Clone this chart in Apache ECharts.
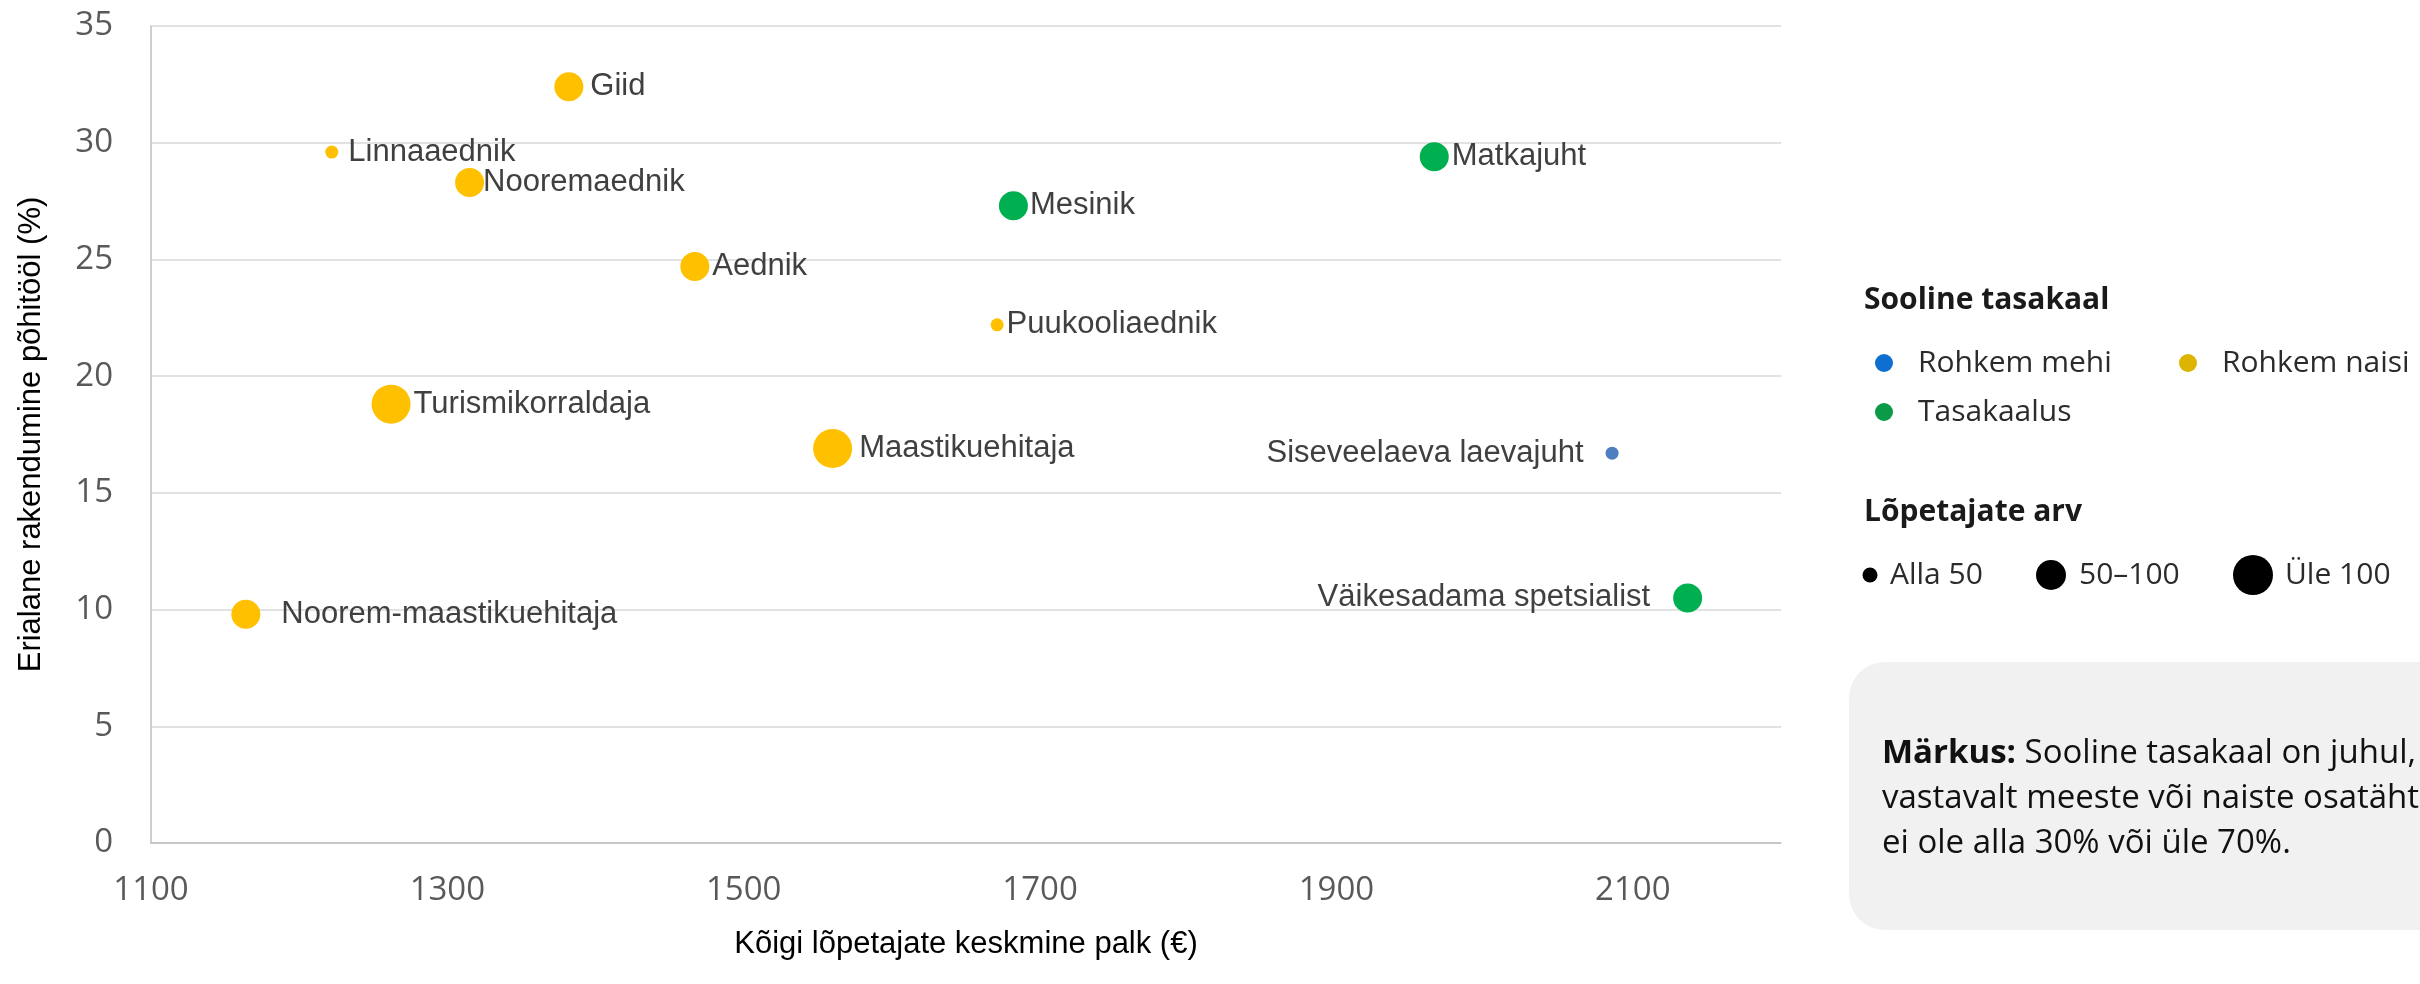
<!DOCTYPE html>
<html>
<head>
<meta charset="utf-8">
<script src="https://cdn.jsdelivr.net/npm/echarts@6/dist/echarts.min.js"></script>
<style>
html,body{margin:0;padding:0;background:#ffffff;}
#chart{width:2420px;height:984px;}
</style>
</head>
<body>
<div id="chart"></div>
<script>
// ---- data ----
const names = ['Giid','Linnaaednik','Nooremaednik','Aednik','Puukooliaednik','Turismikorraldaja','Maastikuehitaja','Noorem-maastikuehitaja','Mesinik','Matkajuht','Siseveelaeva laevajuht','Väikesadama spetsialist'];
const salary = [1382,1222,1315,1467,1671,1262,1560,1164,1682,1966,2086,2137];
const employment = [32.4,29.6,28.3,24.7,22.2,18.8,16.9,9.8,27.3,29.4,16.7,10.5];
const genderGroup = ['naised','naised','naised','naised','naised','naised','naised','naised','tasakaal','tasakaal','mehed','tasakaal'];
const graduateGroup = [1,0,1,1,0,2,2,1,1,1,0,1]; // 0 = Alla 50, 1 = 50–100, 2 = Üle 100
const xTicks = [1100,1300,1500,1700,1900,2100];
const yTicks = [0,5,10,15,20,25,30,35];
const genderKeys = ['mehed','naised','tasakaal'];
const genderLabels = ['Rohkem mehi','Rohkem naisi','Tasakaalus'];
const sizeLabels = ['Alla 50','50–100','Üle 100'];
const xTitle = 'Kõigi lõpetajate keskmine palk (€)';
const yTitle = 'Erialane rakendumine põhitööl (%)';
const legendTitle1 = 'Sooline tasakaal';
const legendTitle2 = 'Lõpetajate arv';
const noteBold = 'Märkus:';
const noteLines = [' Sooline tasakaal on juhul, kui', 'vastavalt meeste või naiste osatähtsus', 'ei ole alla 30% või üle 70%.'];

// ---- styles ----
const pointColor = {mehed:'#4F7FBF', naised:'#FFC000', tasakaal:'#00B050'};
const legendColor = {mehed:'#0E6FD1', naised:'#DDB500', tasakaal:'#0A9A48'};
const sizePx = [13, 29, 39];
const legendSizePx = [15, 30, 40];
const labelSide = ['right','right','right','right','right','right','right','right','right','right','left','left'];
const labelGap = [7,10,-1,3,3,3,7,21,2,3,22,23];
const labelFont = "'Liberation Sans',Arial,sans-serif";
const tickFont = "'Open Sans',sans-serif";
const legendFont = "'Open Sans','Noto Sans',sans-serif";

const series = genderKeys.map(function (g) {
  const data = [];
  names.forEach(function (n, i) {
    if (genderGroup[i] !== g) return;
    data.push({
      name: n,
      value: [salary[i], employment[i]],
      symbolSize: sizePx[graduateGroup[i]],
      label: {position: labelSide[i], distance: labelGap[i]}
    });
  });
  return {
    type: 'scatter',
    name: g,
    data: data,
    itemStyle: {color: pointColor[g], opacity: 1},
    label: {
      show: true,
      formatter: '{b}',
      fontFamily: labelFont,
      fontSize: 31,
      color: '#404040'
    },
    emphasis: {disabled: true},
    z: 3
  };
});

// legend + note drawn as graphics
const graphics = [];
const L = 1864;
graphics.push({type:'text', style:{x:L, y:300, text:legendTitle1, font:'bold 30px ' + legendFont, fill:'#1a1a1a', textVerticalAlign:'middle', verticalAlign:'middle'}});
const gPos = [[1884,363],[2188,363],[1884,412]];
genderKeys.forEach(function (g, i) {
  graphics.push({type:'circle', shape:{cx:gPos[i][0], cy:gPos[i][1], r:9}, style:{fill:legendColor[g]}});
  graphics.push({type:'text', style:{x:gPos[i][0]+34, y:gPos[i][1], text:genderLabels[i], font:'30px ' + legendFont, fill:'#2b2b2b', textVerticalAlign:'middle', verticalAlign:'middle'}});
});
graphics.push({type:'text', style:{x:L, y:512, text:legendTitle2, font:'bold 30px ' + legendFont, fill:'#1a1a1a', textVerticalAlign:'middle', verticalAlign:'middle'}});
const sPos = [[1870,1890],[2051,2079],[2253,2285]];
sizeLabels.forEach(function (s, i) {
  graphics.push({type:'circle', shape:{cx:sPos[i][0], cy:575, r:legendSizePx[i]/2}, style:{fill:'#000000'}});
  graphics.push({type:'text', style:{x:sPos[i][1], y:575, text:s, font:'30px ' + legendFont, fill:'#2b2b2b', textVerticalAlign:'middle', verticalAlign:'middle'}});
});
graphics.push({type:'rect', shape:{x:1849, y:662, width:700, height:268, r:36}, style:{fill:'#F1F1F1'}});
graphics.push({type:'text', style:{
  x:1882, y:731,
  text:'{b|' + noteBold + '}{n|' + noteLines[0] + '}\n{n|' + noteLines[1] + '}\n{n|' + noteLines[2] + '}',
  font:"33px 'Open Sans',sans-serif",
  fill:'#111111',
  textVerticalAlign:'top', verticalAlign:'top',
  rich:{
    b:{fontWeight:'bold', fontSize:33, fontFamily:"'Open Sans',sans-serif", lineHeight:45, fill:'#111111', color:'#111111'},
    n:{fontSize:33, fontFamily:"'Open Sans',sans-serif", lineHeight:45, fill:'#111111', color:'#111111'}
  }
}});

const chart = echarts.init(document.getElementById('chart'), null, {renderer:'canvas'});
chart.setOption({
  animation: false,
  backgroundColor: '#ffffff',
  grid: {left:151, right:639, top:26, bottom:141, containLabel:false},
  xAxis: {
    type: 'value',
    min: 1100, max: 2200, interval: 100,
    name: xTitle,
    nameLocation: 'middle',
    nameGap: 86,
    nameTextStyle: {fontFamily: labelFont, fontSize: 31, color: '#000000'},
    axisLine: {show:true, lineStyle:{color:'#BFBFBF', width:1.5}},
    axisTick: {show:false},
    splitLine: {show:false},
    axisLabel: {
      margin: 31,
      fontFamily: tickFont, fontSize: 33, color: '#595959',
      showMaxLabel: false,
      formatter: function (v) { return xTicks.indexOf(v) >= 0 ? String(v) : ''; }
    }
  },
  yAxis: {
    type: 'value',
    min: yTicks[0], max: yTicks[yTicks.length-1], interval: 5,
    name: yTitle,
    nameLocation: 'middle',
    nameGap: 104,
    nameRotate: 90,
    nameTextStyle: {fontFamily: labelFont, fontSize: 31, color: '#000000'},
    axisLine: {show:true, lineStyle:{color:'#BFBFBF', width:1.5}},
    axisTick: {show:false},
    splitLine: {show:true, lineStyle:{color:'#D9D9D9', width:1.5}},
    axisLabel: {
      margin: 38,
      fontFamily: tickFont, fontSize: 33, color: '#595959',
      formatter: function (v) { return yTicks.indexOf(v) >= 0 ? String(v) : ''; }
    }
  },
  series: series,
  graphic: graphics
});
</script>
</body>
</html>
